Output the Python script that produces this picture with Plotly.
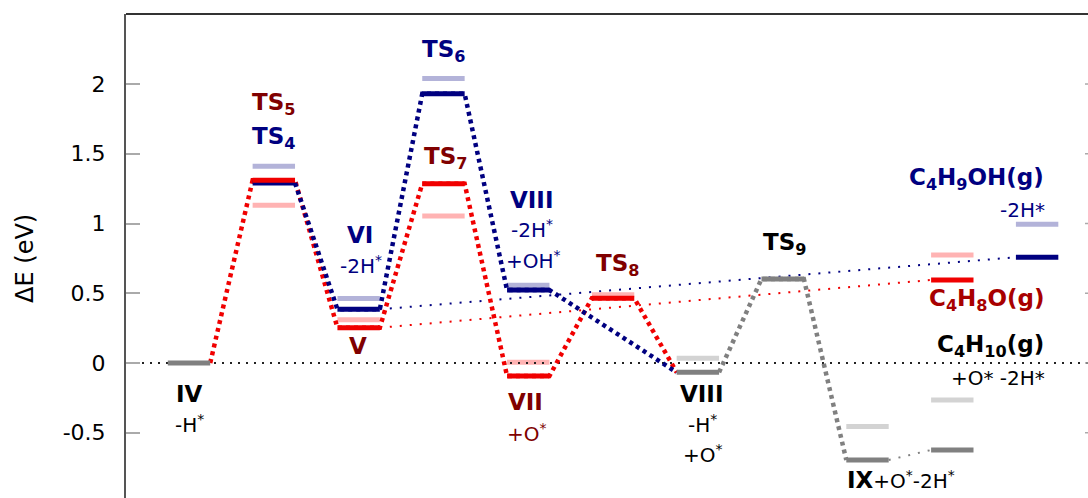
import plotly.graph_objects as go

# Reaction-path stages (x positions 0..10) and energies in eV (None = no level at that stage)
stages = list(range(11))
E_grey = [0.0, None, None, None, None, None, -0.067, 0.602, -0.695, -0.624, None]
E_grey_light = [None, None, None, None, None, None, 0.034, None, -0.456, -0.265, None]
E_red = [None, 1.31, 0.253, 1.285, -0.093, 0.464, None, None, None, 0.595, None]
E_pink = [None, 1.13, 0.31, 1.054, 0.005, 0.49, None, None, None, 0.774, None]
E_navy = [None, 1.29, 0.385, 1.93, 0.523, None, None, None, None, None, 0.758]
E_lavender = [None, 1.41, 0.462, 2.04, 0.557, None, None, None, None, None, 0.994]

y_ticks = [-0.5, 0, 0.5, 1, 1.5, 2]
y_ticklabels = ["-0.5", "0", "0.5", "1", "1.5", "2"]

series = {
    "grey": E_grey, "grey_light": E_grey_light, "red": E_red,
    "pink": E_pink, "navy": E_navy, "lavender": E_lavender,
}

# Connected pathways: (stage, series) in order
path_red = [(0, "grey"), (1, "red"), (2, "red"), (3, "red"), (4, "red"), (5, "red"), (6, "grey")]
path_navy = [(1, "navy"), (2, "navy"), (3, "navy"), (4, "navy"), (6, "grey")]
path_grey = [(6, "grey"), (7, "grey"), (8, "grey")]
thin_navy = [(2, "navy"), (10, "navy")]
thin_red = [(2, "red"), (9, "red")]
thin_grey = [(8, "grey"), (9, "grey")]

HALF = 0.25
X_RANGE = [-0.743, 10.60]
Y_RANGE = [-0.968, 2.502]

NAVY = "#000080"
LAVENDER = "#b3b3d9"
RED = "#f00000"
PINK = "#ffb3b3"
GREY = "#808080"
GREY_LIGHT = "#d3d3d3"
MAROON = "#800000"
FONT = "DejaVu Sans"
BOLD = 23
REG = 20


def level_xy(values):
    xs, ys = [], []
    for s, e in zip(stages, values):
        if e is None:
            continue
        xs += [s - HALF, s + HALF, None]
        ys += [e, e, None]
    return xs, ys


def path_xy(path):
    xs, ys = [], []
    for (s0, k0), (s1, k1) in zip(path[:-1], path[1:]):
        xs += [s0 + HALF, s1 - HALF]
        ys += [series[k0][s0], series[k1][s1]]
    return xs, ys


fig = go.Figure()


def add_line(xs, ys, color, width, dash="solid"):
    fig.add_trace(go.Scatter(x=xs, y=ys, mode="lines", hoverinfo="skip",
                             line=dict(color=color, width=width, dash=dash),
                             connectgaps=False, showlegend=False))


# thin dotted links to gas-phase products
for p, c in [(thin_navy, NAVY), (thin_red, RED), (thin_grey, GREY)]:
    add_line(*path_xy(p), c, 2, "2px,8px")

# light (reference) levels
for vals, c in [(E_lavender, LAVENDER), (E_pink, PINK), (E_grey_light, GREY_LIGHT)]:
    add_line(*level_xy(vals), c, 5)

# zero reference line
add_line(X_RANGE, [0, 0], "#222222", 2, "2px,6px")

# thick dotted pathways
for p, c in [(path_red, RED), (path_navy, NAVY), (path_grey, GREY)]:
    add_line(*path_xy(p), c, 4.5, "4px,4px")

# main levels
for vals, c in [(E_navy, NAVY), (E_red, RED), (E_grey, GREY)]:
    add_line(*level_xy(vals), c, 5)

# state labels: (text, x, y, color, size, xanchor)
labels = [
    ("<b>TS<sub>5</sub></b>", 1.0, 1.86, MAROON, BOLD, "center"),
    ("<b>TS<sub>4</sub></b>", 1.0, 1.61, NAVY, BOLD, "center"),
    ("<b>TS<sub>6</sub></b>", 3.0, 2.24, NAVY, BOLD, "center"),
    ("<b>TS<sub>7</sub></b>", 3.03, 1.47, MAROON, BOLD, "center"),
    ("<b>VI</b>", 2.02, 0.92, NAVY, BOLD, "center"),
    ("-2H<sup>*</sup>", 2.03, 0.70, NAVY, REG, "center"),
    ("<b>V</b>", 1.99, 0.12, MAROON, BOLD, "center"),
    ("<b>VIII</b>", 4.04, 1.17, NAVY, BOLD, "center"),
    ("-2H<sup>*</sup>", 4.05, 0.96, NAVY, REG, "center"),
    ("+OH<sup>*</sup>", 4.06, 0.74, NAVY, REG, "center"),
    ("<b>TS<sub>8</sub></b>", 5.05, 0.70, MAROON, BOLD, "center"),
    ("<b>VII</b>", 3.97, -0.28, MAROON, BOLD, "center"),
    ("+O<sup>*</sup>", 3.98, -0.50, MAROON, REG, "center"),
    ("<b>VIII</b>", 6.04, -0.22, "black", BOLD, "center"),
    ("-H<sup>*</sup>", 6.05, -0.44, "black", REG, "center"),
    ("+O<sup>*</sup>", 6.06, -0.65, "black", REG, "center"),
    ("<b>TS<sub>9</sub></b>", 7.02, 0.85, "black", BOLD, "center"),
    ("<span style='font-size:23px'><b>IX</b></span>+O<sup>*</sup>-2H<sup>*</sup>",
     7.74, -0.84, "black", REG, "left"),
    ("<b>C<sub>4</sub>H<sub>9</sub>OH(g)</b>", 10.1, 1.32, NAVY, BOLD, "right"),
    ("-2H*", 10.12, 1.10, NAVY, REG, "right"),
    ("<b>C<sub>4</sub>H<sub>8</sub>O(g)</b>", 10.12, 0.45, "#a80000", BOLD, "right"),
    ("<b>C<sub>4</sub>H<sub>10</sub>(g)</b>", 10.1, 0.12, "black", BOLD, "right"),
    ("+O* -2H*", 10.12, -0.11, "black", REG, "right"),
    ("<b>IV</b>", 0.0, -0.22, "black", BOLD, "center"),
    ("-H<sup>*</sup>", 0.0, -0.44, "black", REG, "center"),
]
for text, x, y, color, size, xa in labels:
    fig.add_annotation(text=text, x=x, y=y, xref="x", yref="y", showarrow=False,
                       xanchor=xa, yanchor="middle",
                       font=dict(family=FONT, size=size, color=color))

# y-axis title
fig.add_annotation(text="\u0394E (eV)", xref="paper", yref="paper", x=-0.105, y=0.496,
                   textangle=-90, showarrow=False, xanchor="center", yanchor="middle",
                   font=dict(family=FONT, size=24, color="black"))

# top frame line and short ticks on the right edge
fig.add_shape(type="line", xref="x domain", yref="y domain", x0=0, x1=1, y0=1, y1=1,
              line=dict(color="#333333", width=2))
for t in y_ticks:
    fig.add_shape(type="line", xref="x domain", yref="y", x0=1 - 3 / 962, x1=1, y0=t, y1=t,
                  line=dict(color="#aaaaaa", width=1.5))

fig.update_layout(
    width=1088, height=498, autosize=False,
    margin=dict(l=126, r=0, t=14, b=0, autoexpand=False),
    plot_bgcolor="white", paper_bgcolor="white",
    font=dict(family=FONT, color="black"),
    xaxis=dict(range=X_RANGE, visible=False, showgrid=False, zeroline=False),
    yaxis=dict(range=Y_RANGE, showgrid=False, zeroline=False,
               showline=True, linecolor="#555555", linewidth=2,
               ticks="inside", ticklen=14, tickwidth=1.5, tickcolor="#aaaaaa",
               tickvals=y_ticks, ticktext=y_ticklabels, ticklabelstandoff=14,
               tickfont=dict(family=FONT, size=22, color="black")),
)

fig.write_html("out.html")
